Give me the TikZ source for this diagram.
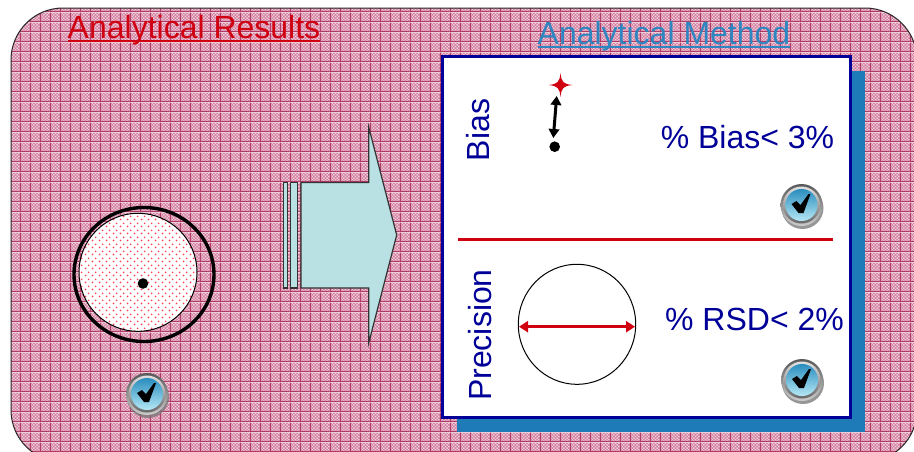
\documentclass[tikz,border=0pt]{standalone}
\usepackage{fontspec}
\setmainfont{Liberation Sans}
\usetikzlibrary{patterns,arrows.meta}
\definecolor{bgbase}{HTML}{CF7597}
\definecolor{bglight}{HTML}{F0CCD9}
\definecolor{bgline}{HTML}{B03A66}
\definecolor{deepblue}{HTML}{000099}
\definecolor{shadowblue}{HTML}{1F7AB8}
\definecolor{headblue}{HTML}{2E86C1}
\definecolor{alertred}{HTML}{D00010}
\definecolor{arrowfill}{HTML}{B9E0E3}
\definecolor{dotred}{HTML}{FF4050}
\definecolor{btntop}{HTML}{2A8DBE}
\definecolor{btnbot}{HTML}{B5E8F5}
\pgfdeclarepatterninherentlycolored{bgweave}{\pgfqpoint{0pt}{0pt}}{\pgfqpoint{10.2pt}{10.2pt}}{\pgfqpoint{10.2pt}{10.2pt}}{
  \pgfsetfillcolor{bgbase}
  \pgfpathrectangle{\pgfqpoint{0pt}{0pt}}{\pgfqpoint{10.2pt}{10.2pt}}\pgfusepath{fill}
  \pgfsetfillcolor{bglight}
  \foreach \i in {0,...,5}{\foreach \j in {0,...,5}{
    \pgfmathtruncatemacro{\k}{mod(\i+\j,2)}
    \ifnum\k=0
      \pgfpathrectangle{\pgfpoint{\i*1.7pt}{\j*1.7pt}}{\pgfqpoint{1.7pt}{1.7pt}}\pgfusepath{fill}
    \fi
  }}
  \pgfsetfillcolor{bgline}
  \pgfpathrectangle{\pgfqpoint{0pt}{0pt}}{\pgfqpoint{1pt}{10.2pt}}\pgfusepath{fill}
  \pgfpathrectangle{\pgfqpoint{0pt}{0pt}}{\pgfqpoint{10.2pt}{1pt}}\pgfusepath{fill}
}
\pgfdeclarepatterninherentlycolored{reddots}{\pgfqpoint{0pt}{0pt}}{\pgfqpoint{7pt}{7pt}}{\pgfqpoint{7pt}{7pt}}{
  \pgfsetfillcolor{dotred}
  \pgfpathcircle{\pgfqpoint{1.75pt}{1.75pt}}{1.1pt}\pgfusepath{fill}
  \pgfpathcircle{\pgfqpoint{5.25pt}{5.25pt}}{1.1pt}\pgfusepath{fill}
}
\tikzset{
  x=1pt,y=-1pt,
  label32/.style={font=\fontsize{32}{38}\selectfont,inner sep=0pt,anchor=center},
  headrule/.style={line width=2.4pt},
  arrowpart/.style={draw=black!80,line width=1.2pt,fill=arrowfill},
  chkbtn/.pic={
    \fill[black!55,opacity=.75] (1,3) circle[radius=21];
    \shade[top color=black!65,bottom color=black!20] (0,0) circle[radius=21];
    \shade[top color=black!12,bottom color=black!60] (0,0) circle[radius=18.5];
    \shade[top color=btntop,bottom color=btnbot] (0,0) circle[radius=16];
    \fill[black] (-10,-1) -- (-5,-4) -- (-1,0) -- (7,-11) -- (9,-11) -- (2,8) -- (-3,8) -- cycle;
  }
}
\begin{document}
\begin{tikzpicture}
\useasboundingbox (0,0) rectangle (914,451);
\fill[white] (0,0) rectangle (914,451);
% panel
\begin{scope}
\clip (0,0) rectangle (914,451);
\path[pattern=bgweave] (11,8) [rounded corners=52pt] -- (917,8) -- (917,462) -- (11,462) -- cycle;
\draw[black!85,line width=1pt,rounded corners=52pt] (11,8) -- (917,8) -- (917,462) -- (11,462) -- cycle;
\end{scope}
% headings
\node[label32,anchor=base,text=alertred] (resultsHead) at (194,38) {Analytical Results};
\node[label32,anchor=base,text=headblue] (methodHead) at (664,44) {Analytical Method};
\coordinate (resRuleL) at (68,41);
\coordinate (resRuleR) at (320,41);
\coordinate (metRuleL) at (538,47);
\coordinate (metRuleR) at (790,47);
\draw[headrule,alertred] (resRuleL) -- (resRuleR);
\draw[headrule,headblue] (metRuleL) -- (metRuleR);
% target
\draw[black,line width=3.4pt] (144,274.5) ellipse[x radius=70,y radius=67];
\path[fill=white] (138,272.3) circle[radius=59];
\path[pattern=reddots] (138,272.3) circle[radius=59];
\draw[black,line width=1pt] (138,272.3) circle[radius=59];
\fill[black] (143,283.5) circle[radius=5.3];
\pic (checkA) at (147,394) {chkbtn};
% block arrow
\draw[arrowpart] (283.5,182.5) rectangle (287.5,288);
\draw[arrowpart] (290.5,182.5) rectangle (297.5,288);
\draw[arrowpart] (301,182.5) -- (368.7,182.5) -- (368.7,127) -- (396.7,235) -- (368.7,343) -- (368.7,288) -- (301,288) -- cycle;
% method panel
\fill[shadowblue] (457,71) rectangle (865,432);
\draw[deepblue,fill=white,line width=3pt] (442.5,56.5) rectangle (850.5,417.5);
\coordinate (ruleL) at (458,239.5);
\coordinate (ruleR) at (833,239.5);
\draw[alertred,line width=3pt] (ruleL) -- (ruleR);
\node[label32,text=deepblue,rotate=90] (biasLabel) at (478,130) {Bias};
\node[label32,text=deepblue,rotate=90] (precLabel) at (480,335) {Precision};
\node[label32,text=deepblue] (biasText) at (747.5,137) {\% Bias< 3\%};
\node[label32,text=deepblue] (rsdText) at (754.5,319) {\% RSD< 2\%};
% bias glyphs
\fill[alertred] (560.5,73) .. controls (561.5,82) and (563,84) .. (572.5,85) .. controls (563,86) and (561.5,88) .. (560.5,97) .. controls (559.5,88) and (558,86) .. (548.5,85) .. controls (558,84) and (559.5,82) .. (560.5,73) -- cycle;
\coordinate (biasTop) at (556.7,96);
\coordinate (biasBot) at (553.3,138);
\draw[black,line width=3pt,{Triangle[length=9pt,width=10.5pt]}-{Triangle[length=9pt,width=10.5pt]}] (biasTop) -- (biasBot);
\fill[black] (554.7,146.7) circle[radius=5.3];
\pic (checkB) at (801.5,205) {chkbtn};
% precision glyphs
\draw[black,line width=1pt,fill=white] (577,324.3) ellipse[x radius=58.7,y radius=60];
\coordinate (spanL) at (519,326.7);
\coordinate (spanR) at (635,326.7);
\draw[alertred,line width=3pt,{Triangle[length=9pt,width=11pt]}-{Triangle[length=9pt,width=11pt]}] (spanL) -- (spanR);
\pic (checkC) at (802,380) {chkbtn};
\end{tikzpicture}
\end{document}
